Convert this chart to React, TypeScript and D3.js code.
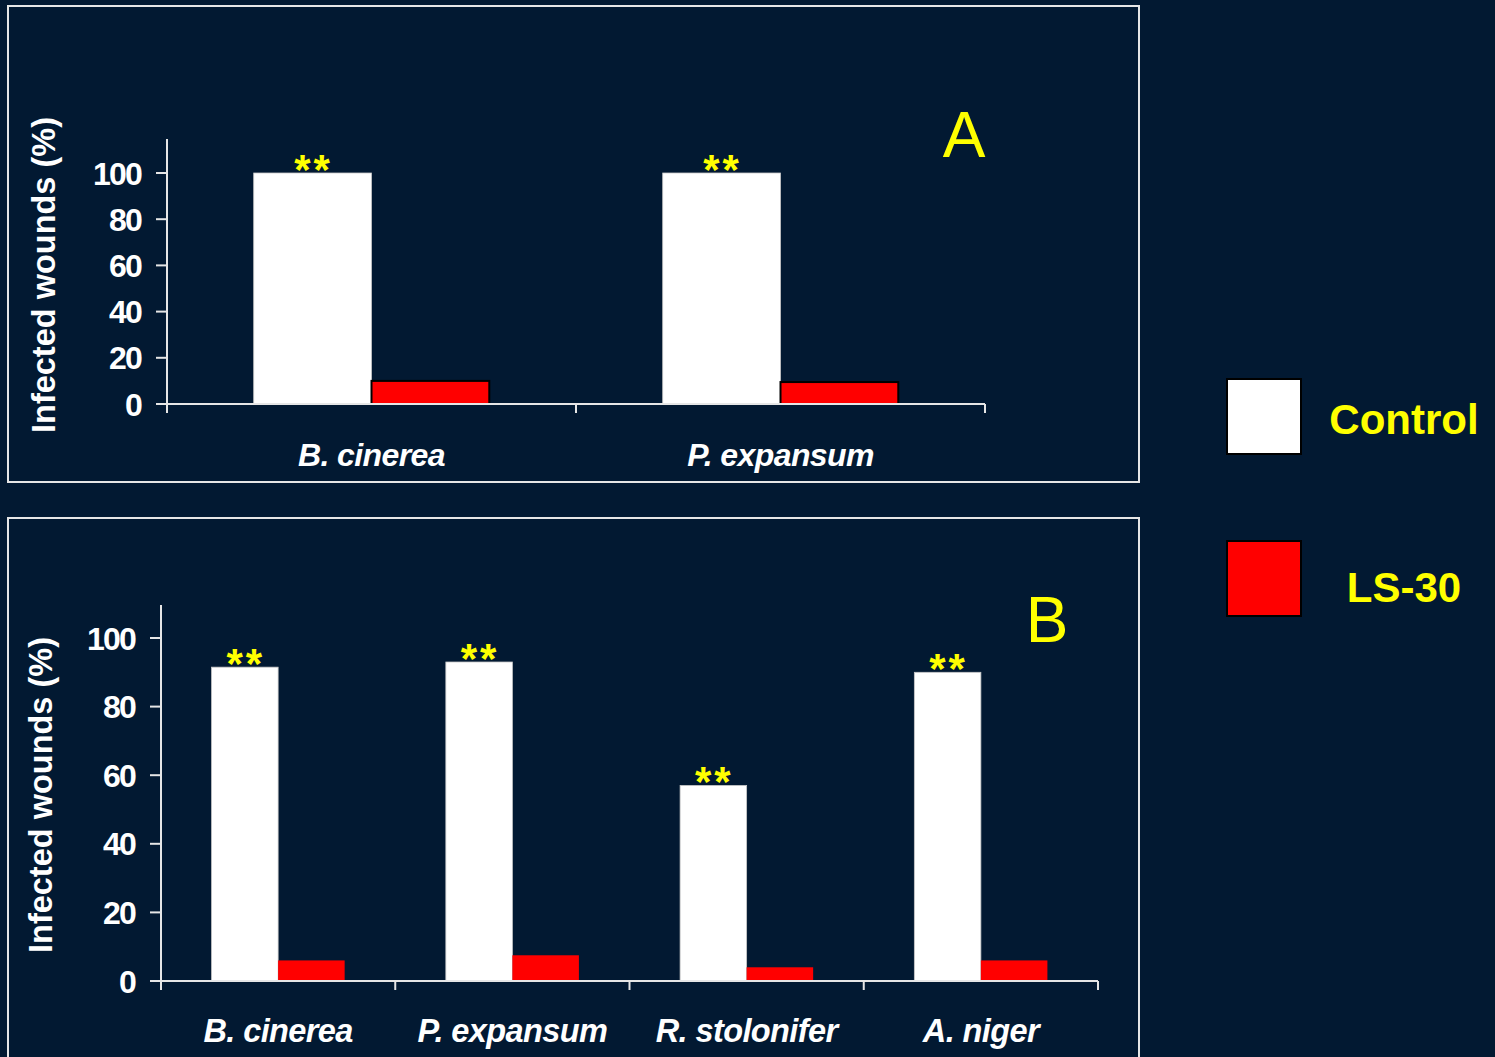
import React from "react";
import * as d3 from "d3";

// Panel A: two pathogens
const catsA = ["B. cinerea", "P. expansum"];
const controlA = [100, 100];
const ls30A = [10, 9.5];

// Panel B: four pathogens
const catsB = ["B. cinerea", "P. expansum", "R. stolonifer", "A. niger"];
const controlB = [91.5, 93, 57, 90];
const ls30B = [6, 7.5, 4, 6];

const yTicks = [0, 20, 40, 60, 80, 100];
const seriesNames = ["Control", "LS-30"];
const seriesColors = ["#ffffff", "#ff0000"];
const significance = "**";

const BG = "#021932";
const AXIS = "#e6e6e6";
const YELLOW = "#ffff00";
const FONT = "'Liberation Sans', Arial, Helvetica, sans-serif";

type PanelProps = {
  cats: string[];
  control: number[];
  treated: number[];
  x0: number;
  x1: number;
  yZero: number;
  yHundred: number;
  axisTop: number;
  barFrac: number;
  letter: string;
  letterX: number;
  letterY: number;
  titleX: number;
  titleY: number;
  catLabelY: number;
  catFont: number;
  redOutline: boolean;
};

function Panel(p: PanelProps) {
  const x = d3.scaleBand<string>().domain(p.cats).range([p.x0, p.x1]).padding(0);
  const y = d3.scaleLinear().domain([0, 100]).range([p.yZero, p.yHundred]);
  const bw = x.bandwidth() * p.barFrac;
  const inner = d3
    .scaleBand<string>()
    .domain(seriesNames)
    .range([-bw, bw])
    .padding(0);
  const boundaries = p.cats.map((c) => x(c) as number).concat([p.x1]);

  return (
    <g>
      {/* y axis */}
      <line x1={p.x0} x2={p.x0} y1={p.axisTop} y2={p.yZero + 8} stroke={AXIS} strokeWidth={2} />
      {yTicks.map((t) => (
        <g key={t}>
          <line x1={p.x0 - 11} x2={p.x0} y1={y(t)} y2={y(t)} stroke={AXIS} strokeWidth={2} />
          <text
            x={p.x0 - 26}
            y={y(t)}
            dy="0.36em"
            textAnchor="end"
            fill="#ffffff"
            fontFamily={FONT}
            fontWeight="bold"
            fontSize={32}
            letterSpacing={-1.8}
          >
            {t}
          </text>
        </g>
      ))}
      <text
        transform={`translate(${p.titleX},${p.titleY}) rotate(-90)`}
        textAnchor="middle"
        fill="#ffffff"
        fontFamily={FONT}
        fontWeight="bold"
        fontSize={32.5}
        dy="0.35em"
      >
        Infected wounds (%)
      </text>

      {/* bars */}
      {p.cats.map((c, i) => {
        const cx = (x(c) as number) + x.bandwidth() / 2;
        const vals = [p.control[i], p.treated[i]];
        return (
          <g key={c}>
            {vals.map((v, j) => {
              const bx = cx + (inner(seriesNames[j]) as number);
              const top = y(v);
              return (
                <rect
                  key={j}
                  x={bx}
                  y={top}
                  width={inner.bandwidth()}
                  height={p.yZero - top}
                  fill={seriesColors[j]}
                  stroke={j === 1 && p.redOutline ? "#000000" : j === 0 ? "#c8c8c8" : "none"}
                  strokeWidth={j === 1 && p.redOutline ? 2 : 0.8}
                />
              );
            })}
            <text
              x={cx + (inner(seriesNames[0]) as number) + inner.bandwidth() / 2 + 1}
              y={y(p.control[i]) + 11}
              textAnchor="middle"
              fill={YELLOW}
              fontFamily={FONT}
              fontWeight="bold"
              fontSize={42}
              letterSpacing={3}
            >
              {significance}
            </text>
            <text
              x={cx}
              y={p.catLabelY}
              textAnchor="middle"
              fill="#ffffff"
              fontFamily={FONT}
              fontWeight="bold"
              fontStyle="italic"
              fontSize={p.catFont}
              letterSpacing={-0.6}
            >
              {c}
            </text>
          </g>
        );
      })}

      {/* x axis */}
      <line x1={p.x0 - 11} x2={p.x1} y1={p.yZero} y2={p.yZero} stroke={AXIS} strokeWidth={2} />
      {boundaries.map((bx, i) => (
        <line key={i} x1={bx} x2={bx} y1={p.yZero} y2={p.yZero + 9} stroke={AXIS} strokeWidth={2} />
      ))}

      <text
        x={p.letterX}
        y={p.letterY}
        textAnchor="middle"
        fill={YELLOW}
        fontFamily={FONT}
        fontSize={64}
      >
        {p.letter}
      </text>
    </g>
  );
}

export default function App() {
  const W = 1495;
  const H = 1057;
  return (
    <svg
      width={W}
      height={H}
      style={{ position: "absolute", left: 0, top: 0, display: "block" }}
    >
      <rect x={0} y={0} width={W} height={H} fill={BG} />
      {/* panel frames */}
      <rect x={8} y={6} width={1131} height={476} fill="none" stroke={AXIS} strokeWidth={2} />
      <rect x={8} y={518} width={1131} height={560} fill="none" stroke={AXIS} strokeWidth={2} />

      <Panel
        cats={catsA}
        control={controlA}
        treated={ls30A}
        x0={167}
        x1={985}
        yZero={404}
        yHundred={173}
        axisTop={139}
        barFrac={0.288}
        letter="A"
        letterX={964}
        letterY={157}
        titleX={44}
        titleY={275}
        catLabelY={466}
        catFont={32}
        redOutline={true}
      />
      <Panel
        cats={catsB}
        control={controlB}
        treated={ls30B}
        x0={161}
        x1={1098}
        yZero={981}
        yHundred={638}
        axisTop={605}
        barFrac={0.284}
        letter="B"
        letterX={1047}
        letterY={642}
        titleX={41}
        titleY={795}
        catLabelY={1042}
        catFont={32.5}
        redOutline={false}
      />

      {/* legend */}
      {seriesNames.map((s, i) => (
        <g key={s}>
          <rect
            x={1227}
            y={379 + i * 162}
            width={74}
            height={75}
            fill={seriesColors[i]}
            stroke="#000000"
            strokeWidth={2}
          />
          <text
            x={1404}
            y={434 + i * 168}
            textAnchor="middle"
            fill={YELLOW}
            fontFamily={FONT}
            fontWeight="bold"
            fontSize={42}
          >
            {s}
          </text>
        </g>
      ))}
    </svg>
  );
}
